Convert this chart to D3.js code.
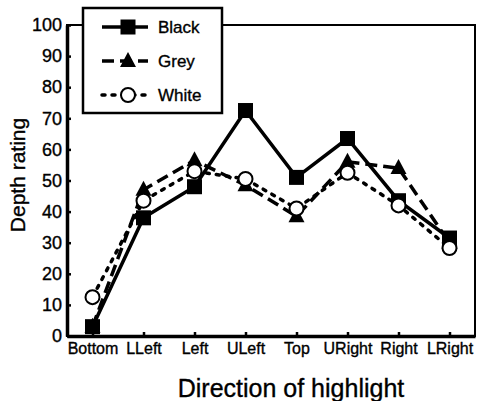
<!DOCTYPE html>
<html>
<head>
<meta charset="utf-8">
<script src="https://cdn.jsdelivr.net/npm/d3@7"></script>
<style>
  body { margin: 0; background: #fff; }
  svg { display: block; font-family: "Liberation Sans", Arial, sans-serif; }
  text { stroke: #000; stroke-width: 0.35px; }
</style>
</head>
<body>
<div id="chart"></div>
<script>
// Data
const directions = ["Bottom", "LLeft", "Left", "ULeft", "Top", "URight", "Right", "LRight"];
const blackValues = [3, 38, 48, 72.5, 51, 63.5, 43.5, 31.5];
const greyValues = [3, 47, 56.5, 48.5, 38.5, 56, 54, 30];
const whiteValues = [12.5, 43.5, 53, 50.5, 41, 52.5, 42, 28.3];
const yTicks = [0, 10, 20, 30, 40, 50, 60, 70, 80, 90, 100];

const series = [
    { name: "Black", values: blackValues, dash: null, marker: "square" },
    { name: "Grey", values: greyValues, dash: "12,6", marker: "triangle" },
    { name: "White", values: whiteValues, dash: "3,7", marker: "circle" }
];

const width = 477, height = 401;
const margin = { top: 25, right: 2, bottom: 65, left: 67 };
const innerWidth = width - margin.left - margin.right;
const innerHeight = height - margin.top - margin.bottom;

const svg = d3.select("#chart").append("svg")
    .attr("width", width)
    .attr("height", height);

const g = svg.append("g").attr("transform", `translate(${margin.left},${margin.top})`);

const x = d3.scalePoint()
    .domain(directions)
    .range([0, innerWidth])
    .padding(0.5);

const y = d3.scaleLinear()
    .domain([0, 100])
    .range([innerHeight, 0]);

// Frame: thin top/right, heavy left/bottom
g.append("rect")
    .attr("x", 0).attr("y", 0)
    .attr("width", innerWidth).attr("height", innerHeight)
    .attr("fill", "none").attr("stroke", "#000").attr("stroke-width", 2);

// Axes
const yAxis = g.append("g")
    .call(d3.axisLeft(y).tickValues(yTicks).tickSizeInner(-4).tickSizeOuter(0).tickPadding(5));
yAxis.attr("font-size", 18).attr("font-family", null);
yAxis.select(".domain").attr("stroke-width", 3.5);
yAxis.selectAll(".tick line").attr("stroke-width", 2.5);
yAxis.selectAll(".tick text").attr("fill", "#000");

const xAxis = g.append("g")
    .attr("transform", `translate(0,${innerHeight})`)
    .call(d3.axisBottom(x).tickSizeInner(-4).tickSizeOuter(0).tickPadding(7));
xAxis.attr("font-size", 16).attr("font-family", null);
xAxis.select(".domain").attr("stroke-width", 3.5);
xAxis.selectAll(".tick line").attr("stroke-width", 2.5);
xAxis.selectAll(".tick text").attr("fill", "#000");

// Axis titles
svg.append("text")
    .attr("text-anchor", "middle")
    .attr("transform", `translate(25,${175})rotate(-90)`)
    .attr("font-size", "21px")
    .text("Depth rating");

svg.append("text")
    .attr("text-anchor", "middle")
    .attr("x", 291)
    .attr("y", 397)
    .attr("font-size", "25px")
    .text("Direction of highlight");

// Marker drawing
function drawMarker(sel, type) {
    if (type === "square") {
        sel.append("rect")
            .attr("x", -7.5).attr("y", -7.5).attr("width", 15).attr("height", 15)
            .attr("fill", "#000");
    } else if (type === "triangle") {
        sel.append("path")
            .attr("d", "M0,-9L8,6L-8,6Z")
            .attr("fill", "#000");
    } else {
        sel.append("circle")
            .attr("r", 7)
            .attr("fill", "#fff").attr("stroke", "#000").attr("stroke-width", 2);
    }
}

const line = d3.line()
    .x((d, i) => x(directions[i]))
    .y(d => y(d));

series.forEach(s => {
    g.append("path")
        .datum(s.values)
        .attr("fill", "none")
        .attr("stroke", "#000")
        .attr("stroke-width", 3.5)
        .attr("stroke-dasharray", s.dash)
        .attr("stroke-linecap", s.marker === "circle" ? "round" : "butt")
        .attr("d", line);
});

series.forEach(s => {
    g.selectAll(null)
        .data(s.values)
        .enter()
        .append("g")
        .attr("transform", (d, i) => `translate(${x(directions[i])},${y(d)})`)
        .each(function () { drawMarker(d3.select(this), s.marker); });
});

// Legend
const legend = svg.append("g").attr("transform", "translate(83,8)");
legend.append("rect")
    .attr("width", 139).attr("height", 105)
    .attr("fill", "#fff").attr("stroke", "#000").attr("stroke-width", 2.5);

series.forEach((s, i) => {
    const row = legend.append("g").attr("transform", `translate(0,${19 + i * 34})`);
    row.append("line")
        .attr("x1", 19).attr("x2", 65)
        .attr("stroke", "#000").attr("stroke-width", 3.5)
        .attr("stroke-dasharray", s.dash)
        .attr("stroke-linecap", s.marker === "circle" ? "round" : "butt");
    const m = row.append("g").attr("transform", "translate(45,0)");
    drawMarker(m, s.marker);
    row.append("text")
        .attr("x", 75).attr("y", 6)
        .attr("font-size", "17px")
        .text(s.name);
});
</script>
</body>
</html>
